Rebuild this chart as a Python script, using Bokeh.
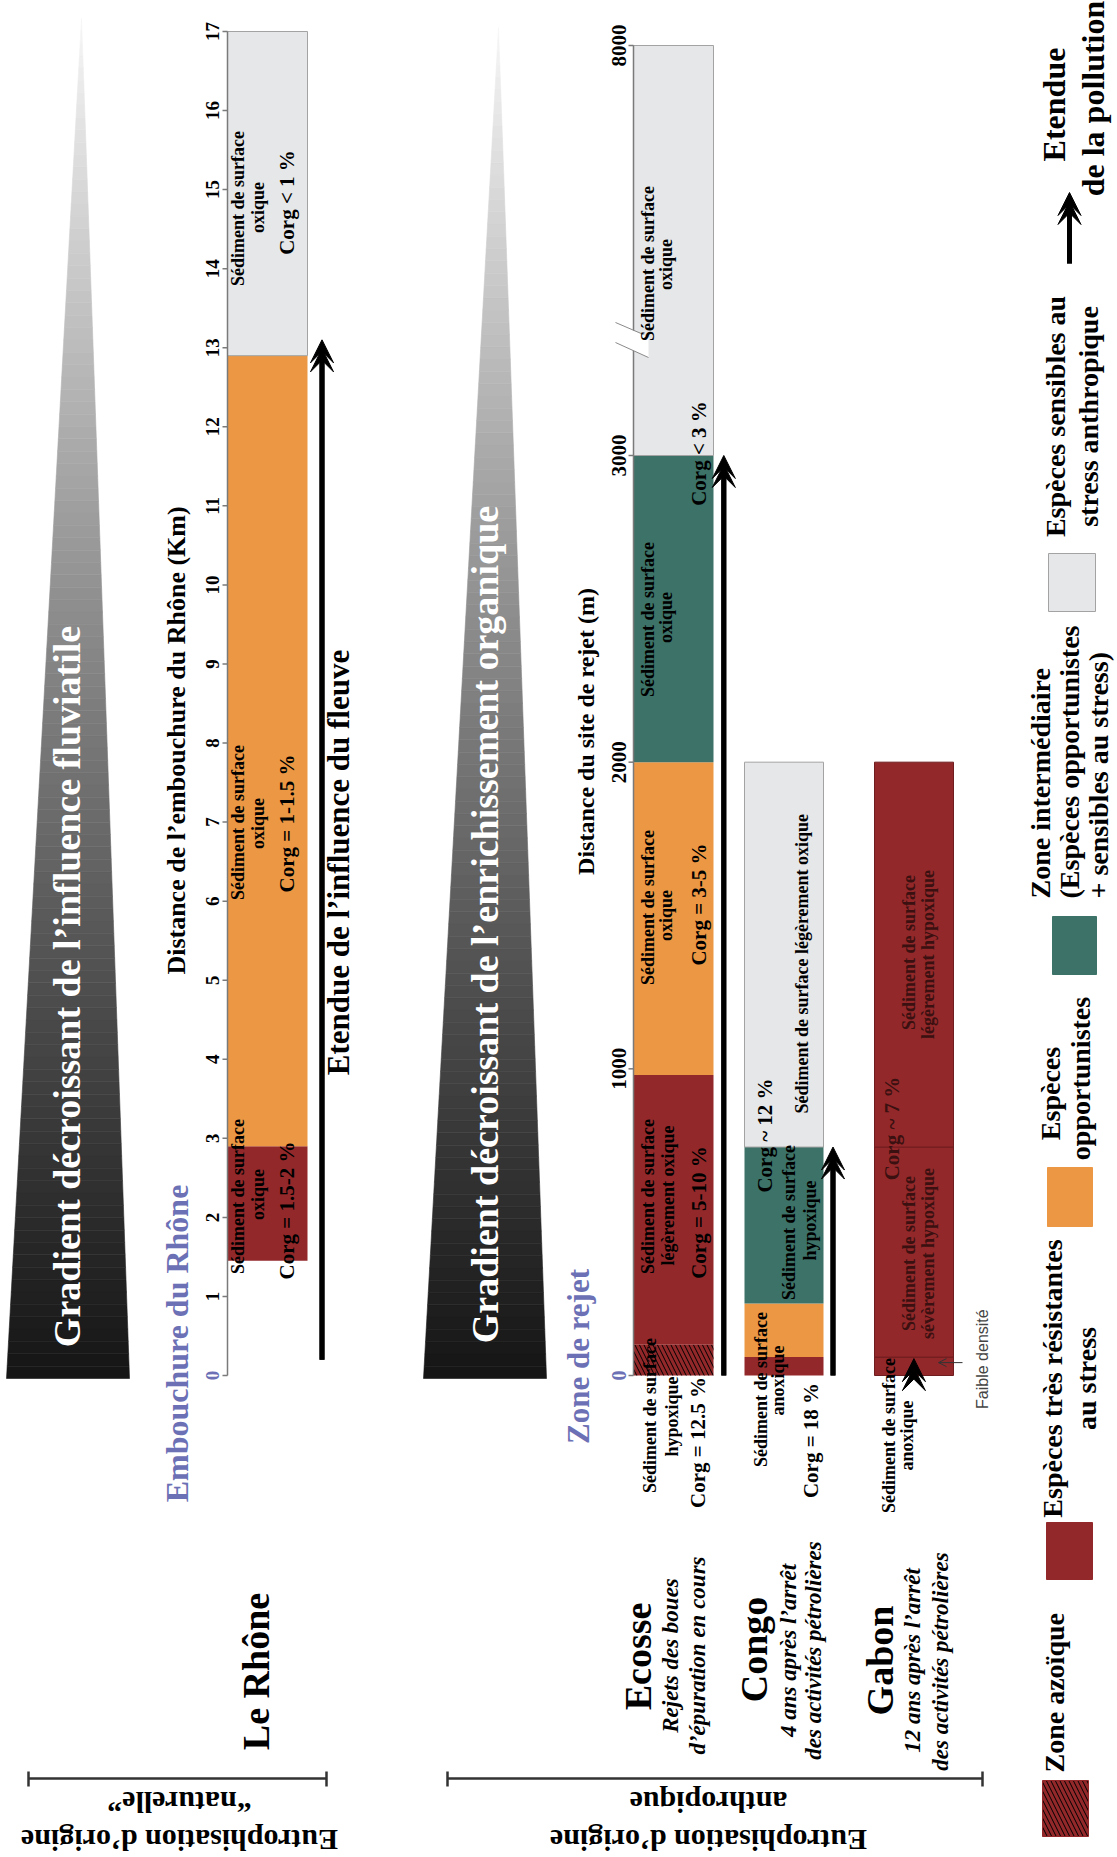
import math
from bokeh.plotting import figure
from bokeh.models import Range1d, Arrow, VeeHead, OpenHead
from bokeh.core.properties import value
from bokeh.embed import file_html
from bokeh.resources import INLINE

# ---------------- data ----------------
rhone_zone_start = [1.45, 2.9, 12.9]          # km from the Rhône mouth
rhone_zone_end = [2.9, 12.9, 17.0]
rhone_zone_type = ["resistant", "opportunist", "sensitive"]
rhone_ticks = list(range(0, 18))
rhone_arrow = [0.2, 13.1]                      # extent of the river influence (km)

ecosse_zone_start = [0, 100, 980, 2000, 3000]  # m from the discharge site
ecosse_zone_end = [100, 980, 2000, 3000, 8000]
ecosse_zone_type = ["azoic", "resistant", "opportunist", "intermediate", "sensitive"]
congo_zone_start = [0, 60, 235, 745]
congo_zone_end = [60, 235, 745, 2000]
congo_zone_type = ["resistant", "opportunist", "intermediate", "sensitive"]
gabon_zone_start = [0, 60, 745]
gabon_zone_end = [60, 745, 2000]
gabon_zone_type = ["resistant", "resistant", "resistant"]
rejet_ticks = [0, 1000, 2000, 3000, 8000]
axis_break = 3000
ecosse_arrow = [0, 3000]
congo_arrow = [0, 745]
gabon_arrow = [-60, 55]
faible_densite_at = 42

COL = {"azoic": "#93282a", "resistant": "#93282a", "opportunist": "#ec9743",
       "intermediate": "#3c7267", "sensitive": "#e6e7e9"}
EDGE = {"azoic": None, "resistant": None, "opportunist": None,
        "intermediate": None, "sensitive": "#a3a3a3"}
BLUE = "#6c71b5"
SERIF = "Liberation Serif"

# ---------------- figure: main ranges are page pixels ----------------
W, H, OFF = 1117, 1857, 0
p = figure(width=W, height=H, x_range=Range1d(OFF, OFF + W), y_range=Range1d(OFF + H, OFF),
           x_axis_type=None, y_axis_type=None, toolbar_location=None, output_backend="svg",
           min_border=0, outline_line_color=None, background_fill_color="white",
           border_fill_color="white")


def calib_range(v0, px0, v1, px1):
    k = (px0 - px1) / (v1 - v0)
    return Range1d(v0 - (OFF + H - px0) / k, v1 + (px1 - OFF) / k), k


km_range, K_KM = calib_range(0, 1375, 17, 31)
mlo_range, K_MLO = calib_range(0, 1375, 3000, 455)
mhi_range, K_MHI = calib_range(3000, 455, 8000, 45)
p.extra_y_ranges = {"km": km_range, "mlo": mlo_range, "mhi": mhi_range}

HALF_PI = math.pi / 2


def txt(x, y, s, size, color="black", style="bold", angle=HALF_PI, align="center",
        baseline="alphabetic", font=SERIF, yr=None):
    kw = {} if yr is None else {"y_range_name": yr}
    xs = x if isinstance(x, list) else [x]
    ys = y if isinstance(y, list) else [y]
    ss = s if isinstance(s, list) else [s]
    cs = color if isinstance(color, list) else [color] * len(ss)
    # baseline correction of the svg text rendering (glyphs sit ~0.33em lower)
    d = 0.33 * size
    if angle == HALF_PI:
        xs = [v - d for v in xs]
    elif angle == math.pi and yr is None:
        ys = [v + d for v in ys]
    p.text(x=xs, y=ys, text=ss, angle=angle, text_font=value(font),
           text_font_size=value(f"{size}px"), text_font_style=style, text_color=cs,
           text_align=align, text_baseline=baseline, **kw)


# ---------------- gradient triangles ----------------
def grad_triangle(bl, br, by, ax, ay, n=110):
    xs, ys, cols = [], [], []
    for i in range(n):
        t0, t1 = i / n, (i + 1) / n
        y0, y1 = by + (ay - by) * t0, by + (ay - by) * t1
        l0, l1 = bl + (ax - bl) * t0, bl + (ax - bl) * t1
        r0, r1 = br + (ax - br) * t0, br + (ax - br) * t1
        xs.append([l0, r0, r1, l1])
        ys.append([y0, y0, y1, y1])
        g = int(22 + 225 * ((t0 + t1) / 2) ** 1.1)
        cols.append(f"#{g:02x}{g:02x}{g:02x}")
    p.patches(xs, ys, fill_color=cols, line_color=cols, line_width=0.6)


grad_triangle(6, 129, 1378, 81, 18)
grad_triangle(423, 546, 1378, 498, 27)
txt(79, 986, "Gradient décroissant de l\u2019influence fluviatile", 38, color="white")
txt(497, 924, "Gradient décroissant de l\u2019enrichissement organique", 38, color="white")

# ---------------- bars ----------------
BAR_X = {"rhone": (227, 307), "ecosse": (633, 713), "congo": (744, 823), "gabon": (874, 953)}


def draw_bar(name, starts, ends, types, unit, edge=None):
    l, r = BAR_X[name]
    for s, e, t in zip(starts, ends, types):
        yr = "km" if unit == "km" else ("mhi" if s >= axis_break else "mlo")
        ec = edge if edge else EDGE[t]
        kw = dict(fill_color=COL[t], line_color=ec, line_width=1, y_range_name=yr)
        if t == "azoic":
            kw.update(hatch_pattern="left_diagonal_line", hatch_color="black",
                      hatch_scale=9, hatch_weight=1)
        p.quad(left=[l], right=[r], bottom=[s], top=[e], **kw)


draw_bar("rhone", rhone_zone_start, rhone_zone_end, rhone_zone_type, "km")
draw_bar("ecosse", ecosse_zone_start, ecosse_zone_end, ecosse_zone_type, "m")
draw_bar("congo", congo_zone_start, congo_zone_end, congo_zone_type, "m")
draw_bar("gabon", gabon_zone_start, gabon_zone_end, gabon_zone_type, "m", edge="#6f1d1f")

# ---------------- axes ----------------
AX_R = BAR_X["rhone"][0]
p.segment(x0=[AX_R], x1=[AX_R], y0=[rhone_ticks[0]], y1=[rhone_ticks[-1]], y_range_name="km",
          line_color="#7a7a7a", line_width=1.5)
p.segment(x0=[AX_R - 5] * len(rhone_ticks), x1=[AX_R] * len(rhone_ticks), y0=rhone_ticks,
          y1=rhone_ticks, y_range_name="km", line_color="#7a7a7a", line_width=1.5)
txt([218] * len(rhone_ticks[1:]), rhone_ticks[1:], [str(t) for t in rhone_ticks[1:]], 19,
    style="bold", yr="km")
txt(218, rhone_ticks[0], str(rhone_ticks[0]), 19, color=BLUE, yr="km")

AX_E = BAR_X["ecosse"][0]
lo_t = [t for t in rejet_ticks if t <= axis_break]
hi_t = [t for t in rejet_ticks if t > axis_break]
p.segment(x0=[AX_E], x1=[AX_E], y0=[lo_t[0]], y1=[axis_break], y_range_name="mlo",
          line_color="#7a7a7a", line_width=1.5)
p.segment(x0=[AX_E], x1=[AX_E], y0=[axis_break], y1=[hi_t[-1]], y_range_name="mhi",
          line_color="#7a7a7a", line_width=1.5)
p.segment(x0=[AX_E - 5] * len(lo_t), x1=[AX_E] * len(lo_t), y0=lo_t, y1=lo_t, y_range_name="mlo",
          line_color="#7a7a7a", line_width=1.5)
p.segment(x0=[AX_E - 5] * len(hi_t), x1=[AX_E] * len(hi_t), y0=hi_t, y1=hi_t, y_range_name="mhi",
          line_color="#7a7a7a", line_width=1.5)
txt([625] * len(lo_t[1:]), lo_t[1:], [str(t) for t in lo_t[1:]], 21, yr="mlo")
txt([625] * len(hi_t), hi_t, [str(t) for t in hi_t], 21, yr="mhi")
txt(625, lo_t[0], str(lo_t[0]), 20, color=BLUE, yr="mlo")

# axis break marks
p.patch([615, 648, 648, 615], [322, 337, 357, 342], fill_color="white", line_color=None)
p.segment(x0=[615, 615], y0=[322, 342], x1=[643, 648], y1=[334, 357],
          line_color="#8a8a8a", line_width=1)


# ---------------- arrows ----------------
def double_arrow(x, y0, y1, yr, k, width=5, size=23, line=True):
    off = 9.0 / k
    for tip in (y1, y1 - off):
        a = Arrow(end=VeeHead(size=size, fill_color="black", line_color="black", line_width=1),
                  x_start=x, y_start=y0, x_end=x, y_end=tip, line_width=width,
                  line_color="black", line_alpha=1 if line else 0)
        if yr:
            a.y_range_name = yr
        p.add_layout(a)


double_arrow(321.5, rhone_arrow[0], rhone_arrow[1], "km", K_KM)
double_arrow(723.3, ecosse_arrow[0], ecosse_arrow[1], "mlo", K_MLO)
double_arrow(832.5, congo_arrow[0], congo_arrow[1], "mlo", K_MLO)
double_arrow(913.4, gabon_arrow[0], gabon_arrow[1], "mlo", K_MLO, line=False)
double_arrow(1069, 263, 192, None, -1.0)
p.add_layout(Arrow(end=OpenHead(size=8, line_width=1, line_color="#333333"), x_start=962,
                   x_end=938, y_start=faible_densite_at, y_end=faible_densite_at,
                   y_range_name="mlo", line_color="#333333", line_width=1))

# ---------------- titles / labels ----------------
txt(185, 740, "Distance de l\u2019embouchure du Rhône (Km)", 26)
txt(187.5, 1343, "Embouchure du Rhône", 32, color=BLUE)
txt(268, 1671, "Le Rhône", 38)
txt(348.5, 862, "Etendue de l\u2019influence du fleuve", 31)
txt(593, 731, "Distance du site de rejet (m)", 24)
txt(588, 1356, "Zone de rejet", 31, color=BLUE)

txt(650, 1656, "Ecosse", 38)
txt(678, 1655, "Rejets des boues", 23, style="bold italic")
txt(705, 1655, "d\u2019épuration en cours", 23, style="bold italic")
txt(766, 1649, "Congo", 38)
txt(796, 1650, "4 ans après l\u2019arrêt", 23, style="bold italic")
txt(821, 1650, "des activités pétrolières", 23, style="bold italic")
txt(892, 1660, "Gabon", 38)
txt(920, 1660, "12 ans après l\u2019arrêt", 23, style="bold italic")
txt(948, 1661, "des activités pétrolières", 23, style="bold italic")

# bracket groups
for (xa, xb, l1, l2, xc) in [(28, 326, "\u201cnaturelle\u201d", "Eutrophisation d\u2019origine", 179),
                             (447, 982, "anthropique", "Eutrophisation d\u2019origine", 708)]:
    p.segment(x0=[xa, xa, xb], y0=[1778, 1771, 1771], x1=[xb, xa, xb], y1=[1778, 1786, 1786],
              line_color="#333333", line_width=2.5)
    txt(xc, 1792, l1, 30, angle=math.pi)
    txt(xc, 1830, l2, 30, angle=math.pi)

# ---------------- texts inside / below the bars ----------------
S = "Sédiment de surface"
bar_texts = [
    (243.5, 208, S, 18), (263, 207, "oxique", 18), (293, 202, "Corg < 1 %", 21),
    (243.5, 822, S, 18), (263, 823, "oxique", 18), (293, 823, "Corg = 1-1.5 %", 21),
    (243.5, 1196, S, 18), (263, 1194, "oxique", 18), (293, 1210, "Corg = 1.5-2 %", 21),
    (653, 263, S, 18), (671, 264, "oxique", 18),
    (705, 453, "Corg < 3 %", 21),
    (653, 619, S, 18), (671, 617, "oxique", 18),
    (653, 907, S, 18), (671, 915, "oxique", 18), (705, 904, "Corg = 3-5 %", 21),
    (653, 1196, S, 18), (673, 1195, "légèrement oxique", 18), (705, 1212, "Corg = 5-10 %", 21),
    (655, 1415, S, 18), (677, 1416, "hypoxique", 18), (704, 1442, "Corg = 12.5 %", 21),
    (807, 961, "Sédiment de surface  légèrement oxique", 18),
    (771, 1135, "Corg ~ 12 %", 21),
    (794, 1222, S, 18), (815, 1220, "hypoxique", 18),
    (766, 1389, S, 18), (783, 1380, "anoxique", 18), (817, 1440, "Corg = 18 %", 21),
    (914, 952, S, 18), (933, 954, "légèrement hypoxique", 18),
    (898, 1128, "Corg ~ 7 %", 21),
    (914, 1253, S, 18), (933, 1253, "sévèrement hypoxique", 18),
    (894, 1435, S, 18), (912, 1435, "anoxique", 18),
]
for bx, cy, s, sz in bar_texts:
    col = "#3a1010" if 880 < bx < 940 and cy < 1300 else "black"
    txt(bx, cy, s, sz, color=col)

txt(987.5, 1358.6, "Faible densité", 16, style="normal", color="#444444", font="Liberation Sans")

# ---------------- legend ----------------
legend_boxes = [("azoic", 1042, 1088, 1780, 1836), ("resistant", 1046, 1092, 1522, 1579),
                ("opportunist", 1047, 1092, 1167, 1226), ("intermediate", 1052, 1096, 916, 974),
                ("sensitive", 1048, 1095, 553, 611)]
for t, l, r, tp, bt in legend_boxes:
    kw = dict(fill_color=COL[t], line_color=EDGE[t] or COL[t], line_width=1)
    if t == "azoic":
        kw.update(hatch_pattern="left_diagonal_line", hatch_color="black", hatch_scale=9,
                  hatch_weight=1)
    p.quad(left=[l], right=[r], top=[tp], bottom=[bt], **kw)

txt(1063, 1772, "Zone azoïque", 28, align="left")
txt(1061, 1378, "Espèces très résistantes", 28)
txt(1095, 1378, "au stress", 28)
txt(1059, 1093, "Espèces", 28)
txt(1089, 1078, "opportunistes", 28)
txt(1049, 898, "Zone intermédiaire", 28, align="left")
txt(1078, 898, "(Espèces opportunistes", 28, align="left")
txt(1107, 898, "+ sensibles au stress)", 28, align="left")
txt(1064, 416, "Espèces sensibles au", 28)
txt(1097, 416, "stress anthropique", 28)
txt(1064, 104, "Etendue", 32)
txt(1103, 98, "de la pollution", 32)

open("out.html", "w").write(file_html(p, INLINE))
